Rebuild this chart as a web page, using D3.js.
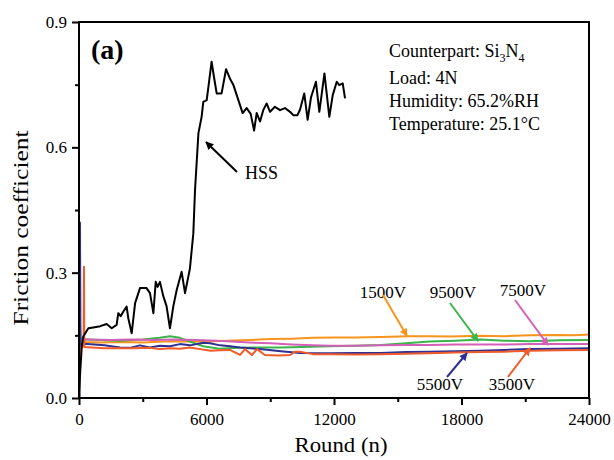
<!DOCTYPE html>
<html>
<head>
<meta charset="utf-8">
<script src="https://cdn.jsdelivr.net/npm/d3@7"></script>
<style>
body { margin: 0; background: #fff; }
svg { display: block; }
text { font-family: "Liberation Serif", "Times New Roman", serif; fill: #000; }
.axis path.domain { display: none; }
.axis line { stroke: #000; stroke-width: 2; }
.line { fill: none; stroke-linejoin: round; }
</style>
</head>
<body>
<svg id="chart" width="614" height="460"></svg>
<script>
// friction data, [round, coefficient]
var hss = [[0,0.015],[130,0.123],[200,0.147],[440,0.167],[670,0.169],[1000,0.172],[1300,0.177],[1540,0.167],[1770,0.175],[1850,0.203],[1960,0.196],[2090,0.207],[2240,0.219],[2320,0.191],[2480,0.155],[2640,0.227],[2870,0.263],[3180,0.263],[3340,0.251],[3500,0.203],[3610,0.278],[3700,0.266],[3810,0.278],[3960,0.245],[4120,0.22],[4280,0.167],[4440,0.22],[4600,0.259],[4830,0.302],[4990,0.251],[5220,0.31],[5380,0.394],[5460,0.498],[5620,0.634],[5770,0.673],[5850,0.709],[6010,0.713],[6130,0.761],[6240,0.805],[6350,0.769],[6480,0.729],[6710,0.729],[6920,0.787],[7100,0.765],[7260,0.75],[7500,0.713],[7700,0.682],[7890,0.694],[8080,0.68],[8240,0.64],[8360,0.682],[8520,0.662],[8670,0.689],[8830,0.705],[8990,0.685],[9220,0.697],[9460,0.689],[9690,0.694],[9930,0.685],[10090,0.677],[10280,0.677],[10400,0.69],[10600,0.729],[10760,0.666],[10920,0.72],[11150,0.757],[11310,0.685],[11550,0.777],[11780,0.673],[11940,0.725],[12130,0.757],[12250,0.749],[12410,0.753],[12520,0.717]];

var v1500 = [[0,0.0],[20,0.26],[60,0.14],[300,0.134],[1000,0.133],[2000,0.134],[3000,0.133],[4000,0.135],[5000,0.136],[6000,0.135],[7000,0.137],[8000,0.139],[9000,0.141],[10000,0.142],[11000,0.144],[12000,0.145],[13000,0.145],[14200,0.146],[15500,0.148],[16500,0.148],[17500,0.147],[18900,0.149],[20000,0.148],[21200,0.150],[22500,0.151],[23300,0.150],[24000,0.152]];

var v3500 = [[0,0.0],[60,0.12],[220,0.125],[235,0.314],[250,0.122],[600,0.121],[1200,0.119],[1900,0.119],[2600,0.119],[3300,0.120],[3800,0.117],[4300,0.119],[4750,0.118],[5200,0.121],[5700,0.117],[6200,0.113],[6600,0.114],[7100,0.115],[7580,0.103],[7810,0.117],[8140,0.103],[8380,0.117],[8750,0.103],[9400,0.102],[9930,0.103],[10170,0.111],[10400,0.111],[11000,0.105],[11800,0.105],[13000,0.104],[14200,0.105],[15400,0.106],[16500,0.107],[17700,0.109],[18900,0.110],[20000,0.111],[21200,0.113],[22600,0.114],[24000,0.115]];

var v5500 = [[30,0.0],[45,0.42],[70,0.13],[400,0.129],[1200,0.126],[1930,0.121],[2400,0.120],[2870,0.126],[3340,0.121],[3810,0.125],[4280,0.124],[4750,0.129],[5220,0.126],[5850,0.132],[6170,0.131],[6640,0.126],[7110,0.124],[7580,0.121],[8500,0.117],[9500,0.112],[10400,0.108],[11800,0.107],[13000,0.108],[14200,0.108],[15400,0.110],[16500,0.111],[17700,0.112],[18900,0.113],[20000,0.115],[21200,0.117],[22600,0.118],[24000,0.119]];

var v7500 = [[0,0.01],[60,0.14],[400,0.140],[1500,0.139],[2500,0.140],[3500,0.139],[4500,0.140],[5500,0.139],[6500,0.137],[7200,0.135],[8000,0.133],[9000,0.131],[10000,0.128],[11000,0.126],[11800,0.125],[13000,0.125],[14200,0.126],[15400,0.127],[16500,0.127],[17700,0.128],[18900,0.128],[20000,0.128],[21200,0.129],[22600,0.129],[24000,0.129]];

var v9500 = [[0,0.0],[30,0.20],[70,0.14],[400,0.140],[1200,0.138],[1930,0.137],[3000,0.140],[3800,0.144],[4280,0.148],[4750,0.144],[5220,0.135],[5850,0.124],[6600,0.118],[7500,0.120],[8500,0.121],[9500,0.121],[10500,0.122],[11800,0.124],[13000,0.125],[14200,0.127],[15400,0.131],[16500,0.135],[17700,0.137],[18900,0.140],[20000,0.137],[21200,0.136],[22600,0.138],[24000,0.139]];

var seriesNames = ["1500V", "9500V", "7500V", "5500V", "3500V"];
var seriesData = [v1500, v9500, v7500, v5500, v3500];
var seriesColors = ["#f7941d", "#39b54a", "#d35fb7", "#2e3192", "#f15a29"];

var xTicks = [0, 6000, 12000, 18000, 24000];
var xMinor = [3000, 9000, 15000, 21000];
var yTicks = [0, 0.3, 0.6, 0.9];
var yMinor = [0.15, 0.45, 0.75];

var infoLines = ["Load: 4N", "Humidity: 65.2%RH", "Temperature: 25.1\u00b0C"];

var svg = d3.select("#chart");
var margin = {top: 22, right: 25, bottom: 62, left: 79},
	width = svg.attr("width") - margin.left - margin.right,
	height = svg.attr("height") - margin.top - margin.bottom,
	g = svg.append("g").attr("transform", "translate(" + margin.left + "," + margin.top + ")");

var x = d3.scaleLinear().domain([0, 24000]).range([0, width]);
var y = d3.scaleLinear().domain([0, 0.9]).range([height, 0]);

var defs = svg.append("defs");
function addHead(id, color) {
	defs.append("marker")
		.attr("id", id)
		.attr("viewBox", "0 0 10 10")
		.attr("refX", 9).attr("refY", 5)
		.attr("markerWidth", 9).attr("markerHeight", 8)
		.attr("markerUnits", "userSpaceOnUse")
		.attr("orient", "auto")
		.append("path").attr("d", "M0,0 L10,5 L0,10 z").attr("fill", color);
}

var line = d3.line()
	.x(function(d) { return x(d[0]); })
	.y(function(d) { return y(d[1]); });

// axes
g.append("g")
	.attr("class", "axis")
	.attr("transform", "translate(0," + height + ")")
	.call(d3.axisBottom(x).tickValues(xTicks).tickSize(7).tickPadding(8).tickFormat(d3.format("d")))
	.selectAll("text").style("font-size", "17px");
g.append("g")
	.attr("class", "axis")
	.attr("transform", "translate(0," + height + ")")
	.call(d3.axisBottom(x).tickValues(xMinor).tickSize(4).tickFormat(""));
g.append("g")
	.attr("class", "axis")
	.call(d3.axisLeft(y).tickValues(yTicks).tickSize(7).tickPadding(5).tickFormat(d3.format(".1f")))
	.selectAll("text").style("font-size", "17px");
g.append("g")
	.attr("class", "axis")
	.call(d3.axisLeft(y).tickValues(yMinor).tickSize(4).tickFormat(""));

// colored series, then HSS on top
seriesData.forEach(function(data, i) {
	g.append("path")
		.attr("class", "line")
		.attr("d", line(data))
		.style("stroke", seriesColors[i])
		.style("stroke-width", 2);
});

g.append("path")
	.attr("class", "line")
	.attr("d", line(hss))
	.style("stroke", "#000")
	.style("stroke-width", 2);

g.append("rect")
	.attr("width", width).attr("height", height)
	.attr("fill", "none").attr("stroke", "#000").attr("stroke-width", 2);

// labels and arrows, positions in pixels of the plot area
var labels = [
	{text: "1500V", x: 304, y: 276, from: [304, 273], to: [328, 314]},
	{text: "9500V", x: 374, y: 276, from: [371, 281], to: [399, 319]},
	{text: "7500V", x: 444, y: 274, from: [436, 278], to: [469, 323]},
	{text: "5500V", x: 361, y: 368, from: [368, 355], to: [388, 331]},
	{text: "3500V", x: 433, y: 368, from: [429, 355], to: [451, 326]}
];
labels.forEach(function(l, i) {
	addHead("head" + i, seriesColors[i]);
	g.append("text")
		.attr("x", l.x).attr("y", l.y)
		.attr("text-anchor", "middle")
		.style("font-size", "17px")
		.text(l.text);
	g.append("line")
		.attr("x1", l.from[0]).attr("y1", l.from[1])
		.attr("x2", l.to[0]).attr("y2", l.to[1])
		.attr("stroke", seriesColors[i]).attr("stroke-width", 2)
		.attr("marker-end", "url(#head" + i + ")");
});

addHead("headHss", "#000");
g.append("line")
	.attr("x1", 158).attr("y1", 150)
	.attr("x2", 127).attr("y2", 120)
	.attr("stroke", "#000").attr("stroke-width", 2)
	.attr("marker-end", "url(#headHss)");
g.append("text")
	.attr("x", 166).attr("y", 157)
	.style("font-size", "18px")
	.text("HSS");

g.append("text")
	.attr("x", 12).attr("y", 37)
	.style("font-size", "28px").style("font-weight", "bold")
	.text("(a)");

var info = g.append("text")
	.attr("x", 310).attr("y", 35)
	.style("font-size", "18px");
info.append("tspan").text("Counterpart: Si");
info.append("tspan").attr("dy", 5).style("font-size", "12px").text("3");
info.append("tspan").attr("dy", -5).text("N");
info.append("tspan").attr("dy", 5).style("font-size", "12px").text("4");

infoLines.forEach(function(t, i) {
	g.append("text")
		.attr("x", 310).attr("y", 62 + i * 23)
		.style("font-size", "18px")
		.text(t);
});

// axis titles
svg.append("text")
	.attr("x", 341).attr("y", 452)
	.attr("text-anchor", "middle")
	.attr("textLength", 93).attr("lengthAdjust", "spacingAndGlyphs")
	.style("font-size", "22px")
	.text("Round (n)");
svg.append("text")
	.attr("transform", "translate(28,228) rotate(-90)")
	.attr("text-anchor", "middle")
	.attr("textLength", 195).attr("lengthAdjust", "spacingAndGlyphs")
	.style("font-size", "22px")
	.text("Friction coefficient");
</script>
</body>
</html>
